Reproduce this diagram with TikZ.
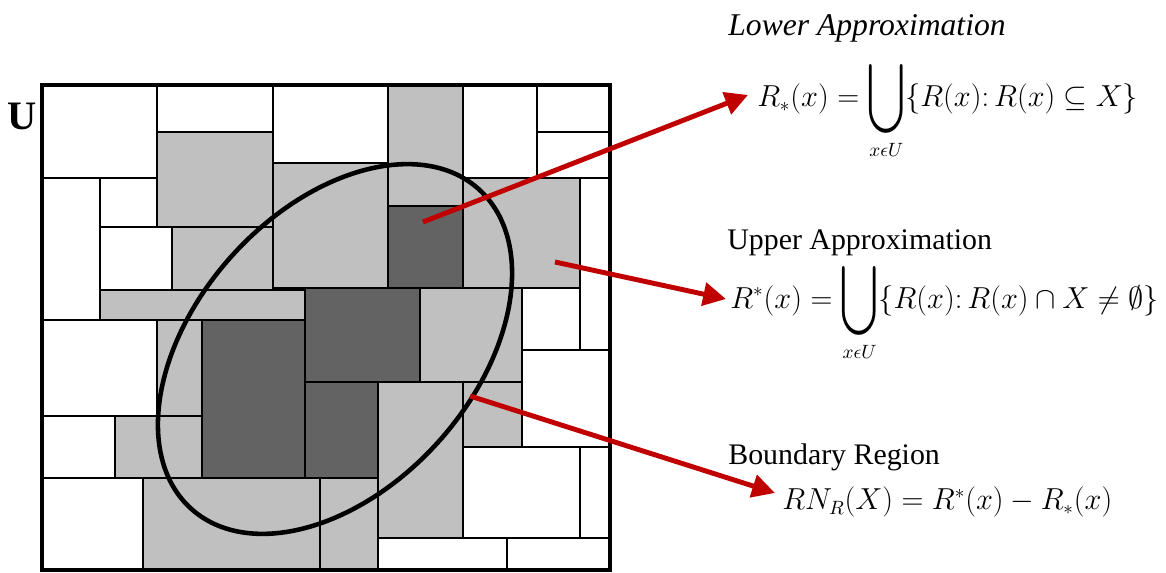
\documentclass[tikz,border=0pt]{standalone}
\usepackage{amsmath, amssymb}
\usepackage{graphicx}
\usepackage{fontspec}
\setmainfont{Liberation Serif}
\usetikzlibrary{arrows.meta, positioning}
\definecolor{cellgray}{RGB}{192,192,192}
\definecolor{celldark}{RGB}{99,99,99}
\definecolor{arrowred}{RGB}{192,0,0}
\newcommand{\bigunion}{\mathop{\vcenter{\hbox{\scalebox{1.2}[1.75]{$\displaystyle\bigcup$}}}}\limits}
\tikzset{
  cell/.style={draw=black, line width=1.1pt},
  ring/.style={draw=black, line width=2.6pt},
  redarrow/.style={draw=arrowred, line width=2.8pt, -{Triangle[length=13pt, width=13pt]}},
  heading/.style={inner sep=0pt, anchor=base west, font=\fontsize{17}{20}\selectfont},
  formula/.style={inner sep=0pt, anchor=base west, font=\fontsize{16}{20}\selectfont}
}

\begin{document}
\begin{tikzpicture}[x=0.02cm, y=-0.02cm]
  \useasboundingbox (0,0) rectangle (1166,573);

  % universe U, split into granules
  \foreach \xa/\ya/\xb/\yb in {42/85/157/178, 157/85/273/132, 273/85/388/163, 463/85/537/178,
      537/85/610/132, 537/132/610/178, 42/178/100/320, 100/178/157/227, 100/227/172/290,
      580/178/610/350, 522/288/580/350, 522/350/610/447, 42/320/157/416, 42/416/115/478,
      42/478/143/570, 463/447/580/538, 580/447/610/538, 378/538/507/570, 507/538/610/570}
    \draw[cell, fill=white] (\xa,\ya) rectangle (\xb,\yb);
  \foreach \xa/\ya/\xb/\yb in {157/132/273/227, 172/227/273/290, 273/163/388/288, 388/85/463/206,
      463/178/580/288, 100/290/305/320, 420/288/522/382, 157/320/202/416, 115/416/202/478,
      378/382/463/538, 463/382/522/447, 143/478/320/570, 320/478/378/570}
    \draw[cell, fill=cellgray] (\xa,\ya) rectangle (\xb,\yb);
  \foreach \xa/\ya/\xb/\yb in {388/206/463/288, 305/288/420/382, 202/320/305/478, 305/382/378/478}
    \draw[cell, fill=celldark] (\xa,\ya) rectangle (\xb,\yb);
  \draw[draw=black, line width=1.8pt] (42,85) rectangle (610,570);
  \node[inner sep=0pt, font=\fontsize{23}{26}\selectfont\bfseries] (univ) at (22,116) {U};

  % the set X
  \draw[ring, rotate around={48:(335,349)}] (335,349) ellipse [x radius=4.3cm, y radius=2.78cm];

  % labels and formulas
  \node[heading, font=\fontsize{18}{20}\selectfont\itshape] (lowt) at (728,36) {Lower Approximation};
  \node[formula] (lowf) at (757,107)
    {$\displaystyle R_*(x) = \bigunion_{x\epsilon U}\{R(x){:}\,R(x)\subseteq X\}$};
  \node[heading] (uppt) at (727,250) {Upper Approximation};
  \node[formula] (uppf) at (730,309)
    {$\displaystyle R^*(x) = \bigunion_{x\epsilon U}\{R(x){:}\,R(x)\cap X\neq\emptyset\}$};
  \node[heading] (bndt) at (728,465) {Boundary Region};
  \node[formula] (bndf) at (782,510) {$RN_R(X) = R^*(x) - R_*(x)$};

  % arrows
  \coordinate (lowsrc) at (423,222);
  \coordinate (uppsrc) at (555,262);
  \coordinate (bndsrc) at (470,396);
  \draw[redarrow] (lowsrc) -- ([shift={(-9,-12)}]lowf.base west);
  \draw[redarrow] (uppsrc) -- ([shift={(-4,-10)}]uppf.base west);
  \draw[redarrow] (bndsrc) -- ([shift={(-7,-17)}]bndf.base west);
\end{tikzpicture}
\end{document}
